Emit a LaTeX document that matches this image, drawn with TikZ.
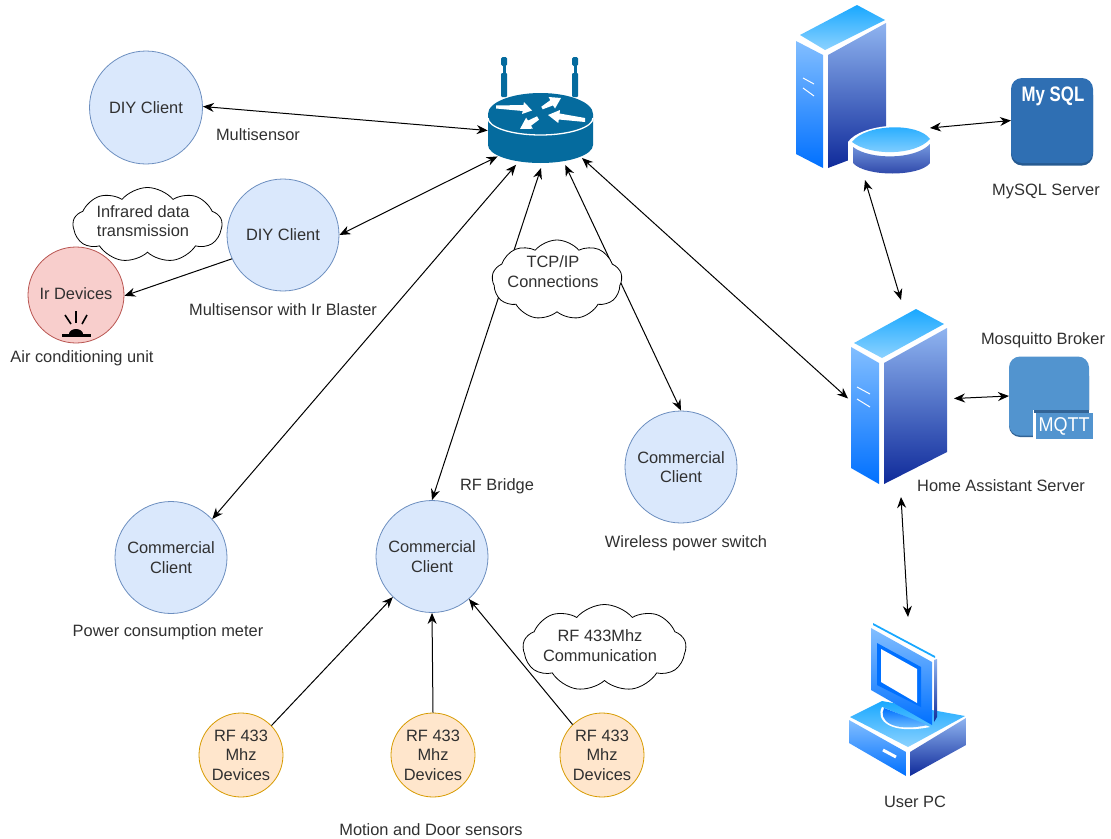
\documentclass[tikz,border=0pt]{standalone}
\usepackage{fontspec}
\setmainfont{Liberation Sans}
\usetikzlibrary{arrows.meta}
\usetikzlibrary{shapes}
\definecolor{txtgray}{HTML}{303030}
\definecolor{routerblue}{HTML}{056B9E}
\definecolor{clientdraw}{HTML}{6C8EBF}
\definecolor{clientfill}{HTML}{DAE8FC}
\definecolor{irdraw}{HTML}{B85450}
\definecolor{irfill}{HTML}{F8CECC}
\definecolor{rfdraw}{HTML}{D79B00}
\definecolor{rffill}{HTML}{FFE6CC}
\definecolor{frontup}{HTML}{82BEFF}
\definecolor{frontdown}{HTML}{0070FF}
\definecolor{sideup}{HTML}{8FB4F0}
\definecolor{sidedown}{HTML}{0F2A9A}
\definecolor{topup}{HTML}{19A8FF}
\definecolor{topdown}{HTML}{8CD2FF}
\definecolor{sqlblue}{HTML}{2F6FB3}
\definecolor{sqldark}{HTML}{265A91}
\definecolor{mqttblue}{HTML}{5294CF}
\definecolor{mqttdark}{HTML}{326496}
\tikzset{>={Stealth[length=11pt,width=9pt]}}
\tikzset{
    every node/.style={font=\fontsize{16.4}{19.5}\selectfont,text=txtgray,align=center},
    bluecircle/.style={circle,draw=clientdraw,fill=clientfill,inner sep=0pt,minimum size=112pt,line width=0.8pt},
    redcircle/.style={circle,draw=irdraw,fill=irfill,inner sep=0pt,minimum size=96pt,line width=0.8pt},
    rfcircle/.style={circle,draw=rfdraw,fill=rffill,inner sep=0pt,minimum size=84pt,line width=0.8pt},
    bubble/.style={cloud,draw=black,fill=white,cloud puffs=9,cloud puff arc=100,aspect=2,inner sep=0pt,line width=0.8pt},
    iconbox/.style={rectangle,inner sep=0pt,outer sep=0pt},
    link/.style={line width=1pt,black,<->},
    oneway/.style={line width=1pt,black,->},
    frontface/.style={top color=frontup,bottom color=frontdown},
    sideface/.style={top color=sideup,bottom color=sidedown},
    topface/.style={top color=topup,bottom color=topdown},
}
\begin{document}
\begin{tikzpicture}[x=1pt,y=-1pt]
    \useasboundingbox (0,0) rectangle (1111,838);
    % router
    \fill[routerblue,rounded corners=1pt] (501,73) rectangle (507,97);
    \fill[routerblue,rounded corners=1pt] (572,73) rectangle (578,97);
    \fill[routerblue] (502.5,65) rectangle (505.5,74);
    \fill[routerblue] (573.5,65) rectangle (576.5,74);
    \fill[routerblue,rounded corners=1.5pt] (501,57) rectangle (507,66);
    \fill[routerblue,rounded corners=1.5pt] (572,57) rectangle (578,66);
    \fill[routerblue] (488,114) -- (488,145) arc(180:0:52.5 and 18) -- (593,114) -- cycle;
    \fill[routerblue] (540.5,114) ellipse(52.5 and 21);
    \draw[white,line width=1.3pt] (488,118) arc(180:0:52.5 and 17);
    \fill[white] (496,105.5)--(523.4,105)--(524,102)--(532,110.5)--(522,114)--(522.7,111)--(496,108.5)--cycle;
    \fill[white] (541.3,106.7)--(550.3,100.2)--(548.6,97)--(561,98)--(555,108.5)--(553,105.4)--(542.7,109.3)--cycle;
    \fill[white] (585,118)--(559.6,113.5)--(560,110)--(548,115)--(558.3,123)--(558.8,119.5)--(585,122)--cycle;
    \fill[white] (539,119.7)--(531,125.7)--(532.9,128.7)--(520,129)--(526.1,117.7)--(528,120.6)--(537,116.3)--cycle;
    \node (router) at (541,138) [ellipse,inner sep=0pt,outer sep=0pt,minimum width=110pt,minimum height=60pt]{};
    % database server
    \path[topface] (800,35)--(857,5)--(885,20)--(825,50)--cycle;
    \path[frontface] (796,41)--(823,55)--(823,168)--(796,154)--cycle;
    \path[sideface] (828,55)--(886,23)--(886,146)--(828,168)--cycle;
    \draw[white,line width=1pt] (803,78)--(814,84);
    \draw[white,line width=1pt] (803,88)--(814,96);
    \fill[white] (848,142) .. controls (860,124) and (920,118) .. (934,139) -- (934,165) .. controls (925,180) and (860,180) .. (848,165) -- cycle;
    \path[top color=sideup!80!sidedown,bottom color=sidedown!90!white] (853,147) .. controls (870,160) and (915,160) .. (930,144) -- (930,163) .. controls (920,177) and (865,177) .. (853,163) -- cycle;
    \path[topface] (852,142) .. controls (865,124) and (918,122) .. (930,139) .. controls (915,156) and (870,156) .. (852,142) -- cycle;
    \node (dbserver) at (891,154) [iconbox,minimum width=78pt,minimum height=52pt]{};
    % mysql block
    \fill[sqldark,rounded corners=11pt] (1011,84) rectangle (1093,165.5);
    \node (mysql) at (1052,120.5) [iconbox,rounded corners=11pt,fill=sqlblue,minimum width=82pt,minimum height=85pt]{};
    \node (mysqltxt) at (1053,96) [font=\fontsize{21}{24}\selectfont\bfseries,text=white,xscale=0.8]{My SQL};
    % home assistant server
    \path[topface] (854,343)--(916,309)--(944,324)--(882,358)--cycle;
    \path[frontface] (851,347)--(879,363)--(879,484)--(851,468)--cycle;
    \path[sideface] (884,363)--(947,328)--(947,452)--(884,484)--cycle;
    \draw[white,line width=1pt] (857,387)--(870,394);
    \draw[white,line width=1pt] (857,399)--(870,407);
    \node (hass) at (901,398.5) [iconbox,minimum width=106pt,minimum height=197pt]{};
    % mqtt block
    \fill[mqttdark,rounded corners=11pt] (1009,365) rectangle (1089,437);
    \node (mqtt) at (1049,396) [iconbox,rounded corners=11pt,fill=mqttblue,minimum width=80pt,minimum height=79pt]{};
    \fill[white] (1033,410) rectangle (1094,440);
    \fill[mqttdark] (1034,410) rectangle (1089,413);
    \fill[mqttblue] (1036,413) rectangle (1093,439);
    \node (mqtttxt) at (1064,426) [font=\fontsize{20}{24}\selectfont,text=white,xscale=0.9]{MQTT};
    % user pc
    \path[topface] (850,717)--(882,701)--(965,716)--(908,747)--cycle;
    \path[frontface] (849,720)--(906,752)--(906,776)--(849,743)--cycle;
    \path[sideface] (910,752)--(966,718)--(966,745)--(910,776)--cycle;
    \draw[white,line width=3pt] (883,750)--(896,757);
    \fill[white] (882,707) .. controls (875,720) and (890,735) .. (930,727) -- cycle;
    \path[top color=frontdown,bottom color=topdown] (884,708) .. controls (878,720) and (892,733) .. (928,725) -- cycle;
    \path[top color=frontup,bottom color=frontdown] (871,628)--(932,662)--(932,725)--(871,690)--cycle;
    \fill[topup] (873,623)--(935,656)--(935,658)--(873,625)--cycle;
    \path[sideface] (934,660)--(937,659)--(937,717)--(934,722)--cycle;
    \fill[frontdown] (877,643)--(921,667)--(921,707)--(877,685)--cycle;
    \fill[white] (881,649)--(917,669)--(917,703)--(881,682)--cycle;
    \node (userpc) at (908,697.5) [iconbox,minimum width=118pt,minimum height=161pt]{};
    % clients
    \node (diya) at (146,107.5) [bluecircle,minimum size=113pt]{DIY Client};
    \node (diyb) at (283,235) [bluecircle]{DIY Client};
    \node (irdev) at (76,295) [redcircle]{};
    \node (irtxt) at (76,294) {Ir Devices};
    \fill[black] (62,333.5) rectangle (91,336.5);
    \fill[black] (69,334) arc(180:360:7 and 5) -- cycle;
    \draw[black,line width=1.6pt] (76,311)--(76,323);
    \draw[black,line width=1.6pt] (65,315)--(71,324);
    \draw[black,line width=1.6pt] (87,315)--(82,324);
    \node (power) at (171,557.5) [bluecircle]{Commercial\\Client};
    \node (bridge) at (432,556.5) [bluecircle]{Commercial\\Client};
    \node (switch) at (681,467) [bluecircle]{Commercial\\Client};
    \node (rfa) at (241,755) [rfcircle]{RF 433\\Mhz\\Devices};
    \node (rfb) at (433,755) [rfcircle]{RF 433\\Mhz\\Devices};
    \node (rfc) at (602,755) [rfcircle]{RF 433\\Mhz\\Devices};
    % connections
    \draw[link] (diya.1)--(router.172.6);
    \draw[link] (diyb.0)--(router.203.8);
    \draw[link] (power.43.7)--(router.227);
    \draw[link] (bridge.90)--(router.270);
    \draw[link] (switch.90)--(router.312.9);
    \draw[link] (hass.west)--(router.334.5);
    \draw[oneway] (diyb.205.7)--(irdev.359);
    \draw[oneway] (rfa.44)--(bridge.226.3);
    \draw[oneway] (rfb.90)--(bridge.270);
    \draw[oneway] (rfc.134)--(bridge.311.7);
    \draw[link] (dbserver.north east)--(mysql.west);
    \draw[link] (dbserver.225)--(hass.north);
    \draw[link] (hass.east)--(mqtt.west);
    \draw[link] (hass.south)--(userpc.north);
    % clouds
    \node (irair) at (147.5,225) [bubble,minimum width=149pt,minimum height=75pt]{};
    \node (irairtxt) at (143,221) {Infrared data\\transmission};
    \node (tcpip) at (557,280) [bubble,minimum width=130pt,minimum height=80pt]{};
    \node (tcpiptxt) at (553,271.5) {TCP/IP\\Connections};
    \node (rfair) at (604.5,648) [bubble,minimum width=163pt,minimum height=87pt]{};
    \node (rfairtxt) at (600,645.5) {RF 433Mhz\\Communication};
    % labels
    \node (lbla) at (258,135) {Multisensor};
    \node (lblb) at (283,310) {Multisensor with Ir Blaster};
    \node (lblc) at (82,358) {Air conditioning unit};
    \node (lbld) at (168,632) {Power consumption meter};
    \node (lble) at (497,486) {RF Bridge};
    \node (lblf) at (686,543) {Wireless power switch};
    \node (lblg) at (431,830) {Motion and Door sensors};
    \node (lblh) at (915,802) {User PC};
    \node (lbli) at (1046,191) {MySQL Server};
    \node (lblj) at (1043,340) {Mosquitto Broker};
    \node (lblk) at (1001,486) {Home Assistant Server};
\end{tikzpicture}
\end{document}
